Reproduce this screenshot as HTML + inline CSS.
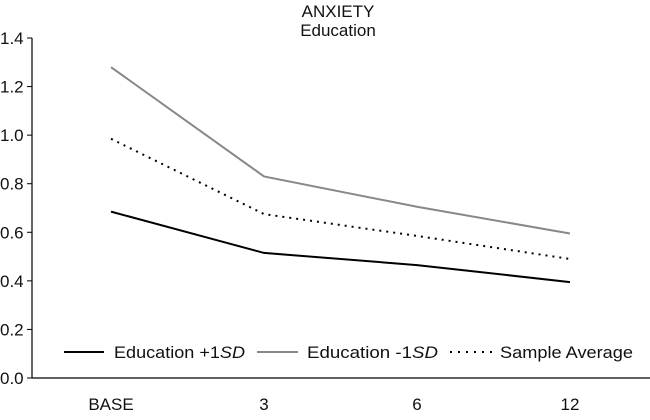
<!DOCTYPE html>
<html><head><meta charset="utf-8"><style>
body{margin:0;background:#fff}
svg text{font-family:"Liberation Sans",sans-serif;font-size:17px;fill:#111}
</style></head><body>
<svg width="650" height="415" xmlns="http://www.w3.org/2000/svg">
<text x="338" y="17" text-anchor="middle">ANXIETY</text>
<text x="338" y="36" text-anchor="middle">Education</text>
<g id="axes"></g>
<g id="series"></g>
<g id="legend">
<line x1="64" y1="352" x2="104" y2="352" stroke="#000" stroke-width="2"/>
<text x="114" y="358" textLength="131" lengthAdjust="spacingAndGlyphs">Education +1<tspan font-style="italic">SD</tspan></text>
<line x1="257" y1="352" x2="298" y2="352" stroke="#888" stroke-width="2"/>
<text x="307" y="358" textLength="131" lengthAdjust="spacingAndGlyphs">Education -1<tspan font-style="italic">SD</tspan></text>
<line x1="450" y1="352" x2="492" y2="352" stroke="#000" stroke-width="2" stroke-dasharray="2,6"/>
<text x="500" y="358" textLength="133" lengthAdjust="spacingAndGlyphs">Sample Average</text>
</g>
</svg>
<script>
const categories=["BASE","3","6","12"];
const eduPlus=[0.685,0.515,0.465,0.395];
const eduMinus=[1.28,0.83,0.705,0.595];
const sampleAvg=[0.985,0.675,0.585,0.49];
const yTicks=[0,0.2,0.4,0.6,0.8,1.0,1.2,1.4];
const NS="http://www.w3.org/2000/svg";
const x=i=>111+i*153;
const y=v=>378-v*(340/1.4);
function mk(t,a,p){const e=document.createElementNS(NS,t);for(const k in a)e.setAttribute(k,a[k]);p.appendChild(e);return e;}
const ax=document.getElementById('axes');
const yl=mk('line',{x1:32,y1:38,x2:32,y2:378,stroke:'#000','stroke-width':1.2},ax);


const xl=mk('line',{x1:32,y1:378,x2:650,y2:378,stroke:'#000','stroke-width':1.2},ax);


yTicks.forEach(v=>{
  mk('line',{x1:27,y1:y(v),x2:32,y2:y(v),stroke:'#000'},ax);
  const t=mk('text',{x:0,y:y(v)+6},ax);t.textContent=v.toFixed(1);
  
  
});
categories.forEach((c,i)=>{
  const t=mk('text',{x:x(i),y:410,'text-anchor':'middle'},ax);t.textContent=c;
  
  
});
const sg=document.getElementById('series');
function line(vals,attrs,name){
  const p=mk('polyline',Object.assign({points:vals.map((v,i)=>x(i)+','+y(v)).join(' '),fill:'none'},attrs),sg);
  
  
}
line(eduMinus,{stroke:'#888','stroke-width':2},'line-education-minus-1sd');
line(sampleAvg,{stroke:'#000','stroke-width':2,'stroke-dasharray':'2,5'},'line-sample-average');
line(eduPlus,{stroke:'#000','stroke-width':2},'line-education-plus-1sd');
</script>
</body></html>
